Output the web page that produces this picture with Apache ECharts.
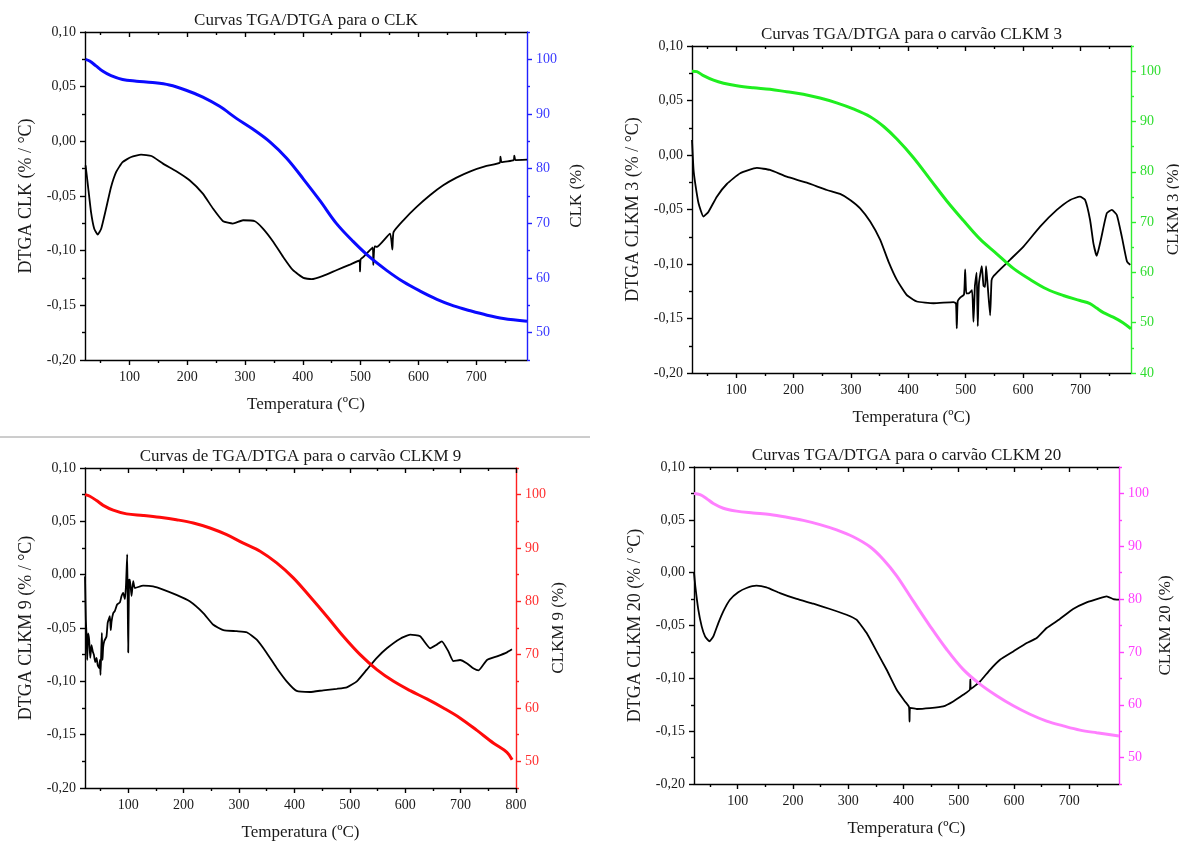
<!DOCTYPE html>
<html><head><meta charset="utf-8">
<script src="https://cdn.jsdelivr.net/npm/echarts@6/dist/echarts.min.js"></script>
<style>html,body{margin:0;padding:0;background:#fff}#c{width:1179px;height:852px}</style>
</head><body><div id="c"></div>
<script>
// ---------- tick values ----------
const xMajor7 = [100, 200, 300, 400, 500, 600, 700];
const xMajor8 = [100, 200, 300, 400, 500, 600, 700, 800];
const xMinor = [50, 150, 250, 350, 450, 550, 650, 750];
const rMajor50 = [50, 60, 70, 80, 90, 100];
const rMajor40 = [40, 50, 60, 70, 80, 90, 100];
const rMinor = [45, 55, 65, 75, 85, 95, 105];

// ---------- CLK ----------
const clkTgaT = [24, 31, 42, 54, 68, 88, 112, 140, 169, 198, 227, 256, 285, 314, 343, 372, 401, 430, 458, 487, 516, 545, 574, 603, 632, 661, 690, 719, 747, 788];
const clkTgaV = [100, 99.7, 98.8, 97.8, 97.0, 96.3, 96.0, 95.75, 95.3, 94.35, 93.1, 91.4, 89.2, 87.2, 84.9, 81.9, 78.1, 74.1, 70.0, 66.7, 63.8, 61.4, 59.3, 57.6, 56.1, 54.9, 54.0, 53.2, 52.6, 52.1];
const clkDtgaT = [24, 28, 33.5, 39, 45, 51, 59.5, 68, 77, 88, 103, 120, 138, 158, 181, 204, 227, 244.5, 262, 279, 296.5, 317, 331, 349, 366, 383, 401, 415, 435, 458, 481.5, 498, 499, 500, 505, 521, 522, 524, 528, 551, 555, 557, 574, 597, 620, 643, 666, 690, 718, 741, 742, 744, 765, 766, 768, 788];
const clkDtgaV = [-0.022, -0.040, -0.065, -0.080, -0.0853, -0.080, -0.0615, -0.042, -0.028, -0.019, -0.0143, -0.0122, -0.0134, -0.0204, -0.0274, -0.0356, -0.0478, -0.0615, -0.0731, -0.0752, -0.0722, -0.0731, -0.0798, -0.092, -0.1057, -0.1179, -0.1249, -0.1261, -0.1231, -0.1179, -0.1127, -0.109, -0.119, -0.108, -0.1057, -0.097, -0.113, -0.096, -0.0966, -0.0844, -0.099, -0.083, -0.0722, -0.060, -0.0493, -0.0402, -0.0332, -0.0274, -0.0225, -0.0195, -0.014, -0.019, -0.0172, -0.013, -0.0171, -0.0168];

// ---------- CLKM 3 ----------
const m3TgaT = [23, 31.5, 43, 60.5, 78, 101, 130, 159, 188, 217, 246, 275, 304, 333.5, 357, 380, 409, 438, 467, 496, 525, 554, 583, 612, 641, 670, 699, 716.5, 728, 740, 757, 774, 788];
const m3TgaV = [100, 99.9, 99.1, 98.2, 97.6, 97.1, 96.7, 96.4, 95.9, 95.4, 94.65, 93.7, 92.5, 90.95, 89.0, 86.5, 82.8, 78.5, 74.2, 70.3, 66.6, 63.7, 60.8, 58.6, 56.7, 55.4, 54.4, 53.8, 52.9, 52.0, 51.1, 50.0, 48.8];
const m3DtgaT = [23, 25.7, 28.6, 34.4, 43, 51.8, 66.3, 83.7, 107, 136, 159, 188, 223, 258, 281, 298.6, 316, 333.5, 351, 365.4, 380, 397, 414.7, 443.8, 478.6, 483, 484.4, 486, 490, 497, 499, 501, 504.8, 511, 513.5, 516, 519, 521, 523, 528, 531, 533.8, 535.5, 538, 542.5, 545, 548, 560, 577.4, 600.6, 629.6, 658.7, 682, 699, 708, 716.7, 722.5, 728.3, 735.4, 745.8, 754.5, 763.3, 772, 781, 786.7];
const m3DtgaV = [0.0137, -0.0137, -0.026, -0.0443, -0.0565, -0.052, -0.0382, -0.0266, -0.0168, -0.0119, -0.0137, -0.0199, -0.0254, -0.0321, -0.0357, -0.0412, -0.0489, -0.0611, -0.0779, -0.0978, -0.1146, -0.1283, -0.1344, -0.136, -0.135, -0.136, -0.159, -0.134, -0.131, -0.128, -0.105, -0.127, -0.127, -0.124, -0.153, -0.120, -0.108, -0.157, -0.118, -0.102, -0.12, -0.121, -0.102, -0.118, -0.147, -0.115, -0.1115, -0.105, -0.096, -0.084, -0.0657, -0.0504, -0.0412, -0.0382, -0.0412, -0.0596, -0.081, -0.0926, -0.0779, -0.0535, -0.0504, -0.055, -0.0749, -0.0978, -0.1008];

// ---------- CLKM 9 ----------
const m9TgaT = [22, 30.7, 42.8, 54.8, 72.9, 97, 127, 157, 187, 217.5, 247.6, 277.7, 307.8, 338, 368, 398, 428, 458.4, 488.6, 518.7, 548.8, 579, 609, 639, 669, 699.4, 729.5, 759.6, 783.7, 793];
const m9TgaV = [100, 99.7, 98.9, 98.0, 97.1, 96.4, 96.1, 95.75, 95.3, 94.7, 93.75, 92.5, 90.9, 89.4, 87.2, 84.4, 80.9, 77.2, 73.4, 70.0, 67.2, 65.0, 63.25, 61.7, 60.0, 58.1, 55.8, 53.4, 51.7, 50.3];
const m9DtgaT = [22, 23.5, 25, 26, 27.5, 29.5, 31.5, 33.7, 36, 38, 40.5, 42.8, 45, 47.6, 49, 50, 51.2, 52.4, 53.6, 54.8, 57, 60.8, 63, 66.9, 68.5, 69.9, 73, 76, 80, 85, 88, 91, 94, 96, 98.2, 99.2, 100, 101.5, 103, 106, 109, 112, 127, 145, 163, 187, 211, 235.5, 253.6, 271.7, 295.8, 313.9, 332, 350, 368, 386, 404, 428, 452, 476.5, 494.6, 512.7, 530.7, 548.8, 566.9, 591, 609, 627, 645, 657, 666, 678, 687, 699, 711, 723.5, 732.5, 747.6, 765.7, 783.7, 792.7];
const m9DtgaV = [-0.0016, -0.042, -0.060, -0.080, -0.055, -0.061, -0.078, -0.066, -0.072, -0.075, -0.082, -0.078, -0.085, -0.0875, -0.080, -0.094, -0.075, -0.0547, -0.080, -0.068, -0.062, -0.058, -0.045, -0.039, -0.052, -0.044, -0.036, -0.034, -0.028, -0.026, -0.020, -0.017, -0.023, -0.010, 0.019, -0.030, -0.073, -0.005, -0.0047, -0.020, -0.006, -0.0125, -0.0103, -0.011, -0.014, -0.019, -0.025, -0.036, -0.047, -0.052, -0.053, -0.054, -0.061, -0.0734, -0.0875, -0.100, -0.109, -0.110, -0.1084, -0.107, -0.1056, -0.100, -0.089, -0.078, -0.069, -0.060, -0.0563, -0.0578, -0.069, -0.0656, -0.0625, -0.072, -0.081, -0.080, -0.083, -0.088, -0.0897, -0.080, -0.0766, -0.0728, -0.070];

// ---------- CLKM 20 ----------
const m20TgaT = [21, 32, 44, 56, 74, 98, 128, 158.5, 188.7, 218.8, 249, 279, 309, 339.4, 363.6, 387.7, 417.9, 448, 478, 508, 538.5, 568.6, 598.8, 629, 659, 689, 719.4, 749.6, 790];
const m20TgaV = [100, 99.75, 99.0, 98.1, 97.2, 96.65, 96.3, 96.0, 95.5, 94.9, 94.1, 93.1, 91.8, 89.9, 87.5, 84.4, 79.6, 74.9, 70.5, 66.7, 63.9, 61.7, 59.8, 58.2, 56.9, 56.0, 55.2, 54.7, 54.1];
const m20DtgaT = [21, 23.4, 28.8, 34.9, 41, 48.7, 56, 65, 74, 86, 101, 116, 134, 152, 176.6, 206.8, 237, 267, 297, 315, 333.4, 351.5, 369.6, 387.7, 402.8, 410, 411, 412, 424, 448, 472, 490, 508, 520, 521, 522, 538.5, 556.6, 574.7, 598.8, 623, 641, 659, 683, 707, 731.5, 755.6, 767.7, 779.7, 790];
const m20DtgaV = [0.0, -0.013, -0.035, -0.0508, -0.0603, -0.065, -0.0603, -0.0477, -0.0366, -0.0256, -0.0186, -0.0145, -0.0123, -0.0139, -0.0193, -0.0249, -0.0294, -0.0344, -0.0398, -0.0445, -0.0572, -0.0745, -0.0919, -0.1108, -0.1219, -0.127, -0.141, -0.128, -0.129, -0.1282, -0.1266, -0.1219, -0.1156, -0.1108, -0.101, -0.110, -0.103, -0.0919, -0.0824, -0.0745, -0.0666, -0.0619, -0.0524, -0.0439, -0.0344, -0.0281, -0.024, -0.0224, -0.025, -0.0256];

// ---------- layout / styles ----------
const FONT = '"Liberation Serif", "Times New Roman", serif';
const TXT = '#1a1a1a';
const panels = [
  {grid:{left:85, top:32, width:442, height:328}, xMin:23, xMax:788, xMajor:xMajor7, rMin:45, rMajor:rMajor50,
   line:'#0a0aff', axis:'#2020ff', lbl:'#3a3aff', title:'Curvas TGA/DTGA para o CLK',
   yName:'DTGA CLK (% / °C)', rName:'CLK (%)', rGap:41, dT:clkDtgaT, dV:clkDtgaV, tT:clkTgaT, tV:clkTgaV},
  {grid:{left:692, top:46, width:439, height:327}, xMin:23, xMax:788, xMajor:xMajor7, rMin:40, rMajor:rMajor40,
   line:'#1fee1f', axis:'#30ee30', lbl:'#30dd30', title:'Curvas TGA/DTGA para o carvão CLKM 3',
   yName:'DTGA CLKM 3 (% / °C)', rName:'CLKM 3 (%)', rGap:33, dT:m3DtgaT, dV:m3DtgaV, tT:m3TgaT, tV:m3TgaV},
  {grid:{left:85, top:468, width:431, height:320}, xMin:22, xMax:800, xMajor:xMajor8, rMin:45, rMajor:rMajor50,
   line:'#ff0a0a', axis:'#ff2020', lbl:'#ff3030', title:'Curvas de TGA/DTGA para o carvão CLKM 9',
   yName:'DTGA CLKM 9 (% / °C)', rName:'CLKM 9 (%)', rGap:30, dT:m9DtgaT, dV:m9DtgaV, tT:m9TgaT, tV:m9TgaV},
  {grid:{left:694, top:467, width:425, height:317}, xMin:21, xMax:790, xMajor:xMajor7, rMin:45, rMajor:rMajor50,
   line:'#ff80ff', axis:'#ff40ff', lbl:'#ff40ff', title:'Curvas TGA/DTGA para o carvão CLKM 20',
   yName:'DTGA CLKM 20 (% / °C)', rName:'CLKM 20 (%)', rGap:38, dT:m20DtgaT, dV:m20DtgaV, tT:m20TgaT, tV:m20TgaV}
];

const zip = (a, b) => a.map((v, i) => [v, b[i]]);
const fmtL = v => (Math.abs(v) < 1e-9 ? '0,00' : v.toFixed(2).replace('.', ','));

const grids = [], xAxes = [], yAxes = [], series = [], graphics = [];
panels.forEach((p, i) => {
  grids.push(Object.assign({containLabel:false, outerBoundsMode:'none'}, p.grid));
  const blk = {color:'#000', width:1.4};
  const base = {gridIndex:i, type:'value', min:p.xMin, max:p.xMax, splitLine:{show:false}};
  xAxes.push(Object.assign({}, base, {position:'bottom',
    axisLine:{show:true, onZero:false, lineStyle:blk},
    axisTick:{show:true, length:5, customValues:p.xMajor, lineStyle:blk},
    axisLabel:{show:true, customValues:p.xMajor, margin:10, fontFamily:FONT, fontSize:14, color:TXT},
    name:'Temperatura (ºC)', nameLocation:'middle', nameGap:36,
    nameTextStyle:{fontFamily:FONT, fontSize:17, color:TXT}}));
  xAxes.push(Object.assign({}, base, {position:'bottom',
    axisLine:{show:false, onZero:false}, axisTick:{show:true, length:3, customValues:xMinor, lineStyle:blk},
    axisLabel:{show:false}}));
  xAxes.push(Object.assign({}, base, {position:'top',
    axisLine:{show:true, onZero:false, lineStyle:blk},
    axisTick:{show:true, inside:true, length:5, customValues:p.xMajor, lineStyle:blk},
    axisLabel:{show:false}}));
  xAxes.push(Object.assign({}, base, {position:'top',
    axisLine:{show:false, onZero:false}, axisTick:{show:true, inside:true, length:3, customValues:xMinor, lineStyle:blk},
    axisLabel:{show:false}}));
  yAxes.push({gridIndex:i, type:'value', position:'left', min:-0.2, max:0.1, interval:0.05,
    axisLine:{show:true, onZero:false, lineStyle:blk},
    axisTick:{show:true, length:5, lineStyle:blk},
    minorTick:{show:true, splitNumber:2, length:3, lineStyle:blk},
    splitLine:{show:false}, minorSplitLine:{show:false},
    axisLabel:{margin:9, fontFamily:FONT, fontSize:14, color:TXT, formatter:fmtL},
    name:p.yName, nameLocation:'middle', nameGap:50, nameRotate:90,
    nameTextStyle:{fontFamily:FONT, fontSize:18, color:TXT}});
  const col = {color:p.axis, width:1.4};
  yAxes.push({gridIndex:i, type:'value', position:'right', min:p.rMin, max:105,
    axisLine:{show:true, onZero:false, lineStyle:col},
    axisTick:{show:true, length:5, customValues:p.rMajor, lineStyle:col},
    axisLabel:{customValues:p.rMajor, margin:9, fontFamily:FONT, fontSize:14, color:p.lbl},
    splitLine:{show:false},
    name:p.rName, nameLocation:'middle', nameGap:p.rGap, nameRotate:90,
    nameTextStyle:{fontFamily:FONT, fontSize:17, color:TXT}});
  yAxes.push({gridIndex:i, type:'value', position:'right', min:p.rMin, max:105,
    axisLine:{show:false, onZero:false},
    axisTick:{show:true, length:3, customValues:rMinor, lineStyle:col},
    axisLabel:{show:false}, splitLine:{show:false}});

  series.push({type:'line', xAxisIndex:4*i, yAxisIndex:3*i, data:zip(p.dT, p.dV),
    symbol:'none', smooth:0.15, lineStyle:{color:'#000', width:1.8}, z:2});
  series.push({type:'line', xAxisIndex:4*i, yAxisIndex:3*i+1, data:zip(p.tT, p.tV),
    symbol:'none', smooth:0.35, lineStyle:{color:p.line, width:3}, z:3});

  graphics.push({type:'text', x:p.grid.left + p.grid.width/2, y:p.grid.top - 11,
    style:{text:p.title, align:'center', verticalAlign:'middle', textAlign:'center', textVerticalAlign:'middle',
      fontFamily:FONT, fontSize:17, fill:TXT}});
});
graphics.push({type:'line', shape:{x1:0, y1:437, x2:590, y2:437}, style:{stroke:'#9a9a9a', lineWidth:1}});

const chart = echarts.init(document.getElementById('c'));
chart.setOption({
  animation:false, backgroundColor:'#fff',
  grid:grids, xAxis:xAxes, yAxis:yAxes, series:series, graphic:graphics
});
</script></body></html>
